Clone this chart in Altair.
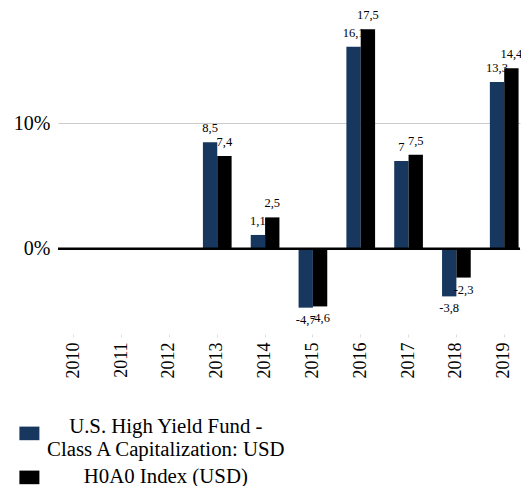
import altair as alt
import pandas as pd

years = ["2010", "2011", "2012", "2013", "2014", "2015", "2016", "2017", "2018", "2019"]
fund_values = [None, None, None, 8.5, 1.1, -4.7, 16.1, 7.0, -3.8, 13.3]
index_values = [None, None, None, 7.4, 2.5, -4.6, 17.5, 7.5, -2.3, 14.4]
series_names = ["U.S. High Yield Fund - Class A Capitalization: USD", "H0A0 Index (USD)"]
series_colors = ["#17375e", "#000000"]
legend_shapes = ["M-1,-0.08H1V1.28H-1Z", "M-1,-0.68H1V0.68H-1Z"]
y_ticks = [0, 10]


def fmt(v):
    if v is None:
        return ""
    s = ("%g" % v)
    return s.replace(".", ",")


rows = []
for name, vals in zip(series_names, [fund_values, index_values]):
    for yr, v in zip(years, vals):
        if v is None:
            continue
        rows.append({"year": yr, "series": name, "value": v, "label": fmt(v)})
df = pd.DataFrame(rows)

FONT = "Liberation Serif, Times New Roman, Times, serif"

x_enc = alt.X("year:N", sort=years,
              scale=alt.Scale(domain=years, paddingInner=0.4, paddingOuter=0.03),
              axis=alt.Axis(title=None, labelAngle=-90, labelFont=FONT, labelFontSize=18,
                            labelColor="#000", domain=False, ticks=True, tickColor="#dddddd",
                            tickSize=3, labelPadding=5, grid=False))
xoff_enc = alt.XOffset("series:N", sort=series_names,
                       scale=alt.Scale(domain=series_names, paddingInner=0, paddingOuter=0))
y_enc = alt.Y("value:Q",
              scale=alt.Scale(domain=[-6.8, 19.2], nice=False, zero=False),
              axis=alt.Axis(title=None, values=y_ticks, labelExpr="datum.value + '%'",
                            labelFont=FONT, labelFontSize=20, labelColor="#000",
                            domain=False, ticks=False, labelPadding=8,
                            grid=True, gridColor="#cccccc", gridWidth=1))
legend = alt.Legend(
    title=None, orient="none", legendX=-39, legendY=409,
    symbolSize=400, symbolStrokeWidth=0, symbolOpacity=1,
    labelFont=FONT, labelFontSize=20.8, labelColor="#000",
    labelAlign="center", labelOffset=126, labelLimit=400,
    rowPadding=5,
    labelExpr="datum.label == 'H0A0 Index (USD)' ? datum.label : ['U.S. High Yield Fund -', 'Class A Capitalization: USD']")
color_enc = alt.Color("series:N", sort=series_names,
                      scale=alt.Scale(domain=series_names, range=series_colors),
                      legend=legend)
shape_enc = alt.Shape("series:N", sort=series_names,
                      scale=alt.Scale(domain=series_names, range=legend_shapes),
                      legend=legend)

base = alt.Chart(df)


def bars(name):
    return base.transform_filter(alt.datum.series == name).mark_bar().encode(
        x=x_enc, xOffset=xoff_enc, y=y_enc, color=color_enc)


def labels(name, positive):
    cond = (alt.datum.value >= 0) if positive else (alt.datum.value < 0)
    return base.transform_filter(alt.datum.series == name).transform_filter(cond).mark_text(
        font=FONT, fontSize=12.5, color="#000",
        baseline="bottom" if positive else "top",
        dy=-7 if positive else 6).encode(
        x=x_enc, xOffset=xoff_enc, y=y_enc, text="label:N")


legend_keys = base.mark_point(filled=True, opacity=0, size=0).encode(
    x=x_enc, xOffset=xoff_enc, y=y_enc, color=color_enc, shape=shape_enc)

zero_rule = alt.Chart(pd.DataFrame({"z": [0]})).mark_rule(color="#000", strokeWidth=2.5).encode(
    y=alt.Y("z:Q"))

chart = alt.layer(
    bars(series_names[0]),
    labels(series_names[0], True),
    labels(series_names[0], False),
    bars(series_names[1]),
    labels(series_names[1], True),
    labels(series_names[1], False),
    legend_keys,
    zero_rule,
).properties(
    width=462, height=326,
    autosize=alt.AutoSizeParams(type="none"),
    padding={"left": 50, "top": 0, "right": 1, "bottom": 156},
).configure(
    style={"guide-label": {"lineHeight": 23}}
).configure_view(stroke=None)

chart.save("out.html", embed_options={"renderer": "svg", "actions": False})
